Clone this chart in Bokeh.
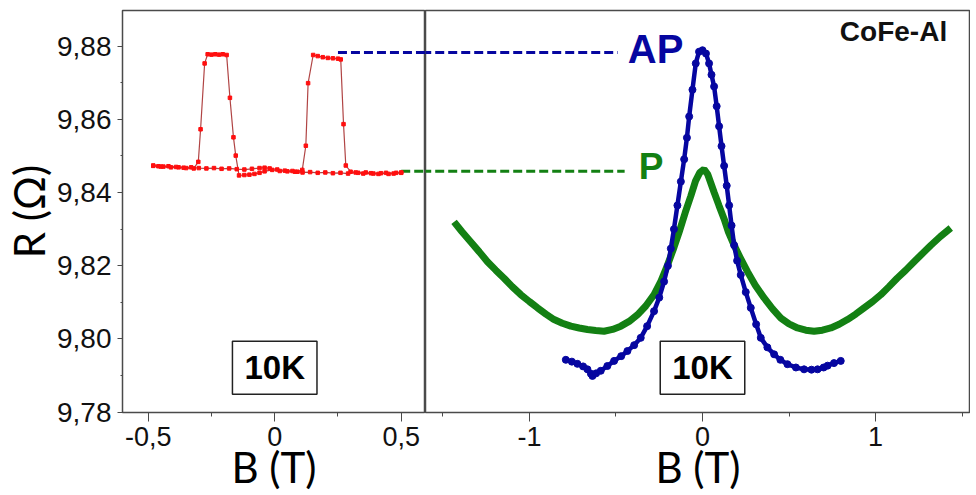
from bokeh.plotting import figure
from bokeh.layouts import row
from bokeh.models import Range1d, SingleIntervalTicker, CustomJSTickFormatter, Label
from bokeh.embed import file_html
from bokeh.resources import INLINE

# ---------------- data ----------------
# Left panel: TMR loop at 10K, sweep from +0.5 T down to -0.48 T
red_down_b = [0.50, 0.47, 0.44, 0.41, 0.38, 0.35, 0.32, 0.29, 0.26, 0.23, 0.20, 0.17,
              0.14, 0.11, 0.08, 0.05, 0.02, -0.01, -0.04, -0.06, -0.08, -0.10, -0.12,
              -0.141, -0.154, -0.163, -0.177, -0.19, -0.205, -0.22, -0.235, -0.25, -0.265,
              -0.277, -0.293, -0.302, -0.32, -0.35, -0.38, -0.41, -0.44, -0.46, -0.48]
red_down_r = [9.8455, 9.8452, 9.8454, 9.8451, 9.8453, 9.8452, 9.8455, 9.8452, 9.8454, 9.8453,
              9.8455, 9.8454, 9.8456, 9.8455, 9.8457, 9.8458, 9.8459, 9.8462, 9.8458, 9.8454,
              9.8451, 9.8449, 9.8448, 9.8447, 9.8501, 9.8551, 9.8659, 9.8776, 9.8778, 9.8777,
              9.8778, 9.8777, 9.8778, 9.8753, 9.8573, 9.8484, 9.8466, 9.8467, 9.8469, 9.8469,
              9.8471, 9.8472, 9.8473]
# Left panel: sweep from -0.48 T up to +0.5 T
red_up_b = [-0.48, -0.45, -0.42, -0.39, -0.36, -0.33, -0.30, -0.27, -0.24, -0.21, -0.18,
            -0.15, -0.12, -0.09, -0.06, -0.04, -0.02, 0.01, 0.04, 0.07, 0.09, 0.109, 0.123,
            0.132, 0.152, 0.17, 0.19, 0.21, 0.23, 0.25, 0.261, 0.272, 0.281, 0.30, 0.33,
            0.36, 0.39, 0.42, 0.45, 0.48, 0.50]
red_up_r = [9.8474, 9.8471, 9.8472, 9.8470, 9.8468, 9.8469, 9.8467, 9.8466, 9.8467, 9.8465,
            9.8466, 9.8464, 9.8463, 9.8465, 9.8467, 9.8468, 9.8466, 9.8463, 9.8460, 9.8459,
            9.8457, 9.8462, 9.8528, 9.8699, 9.8776, 9.8773, 9.8770, 9.8768, 9.8767, 9.8766,
            9.8764, 9.8587, 9.8474, 9.8457, 9.8454, 9.8455, 9.8452, 9.8453, 9.8451, 9.8454,
            9.8454]

# Right panel: AP (blue) and P (green) field sweeps
ap_b = [-0.790, -0.755, -0.723, -0.690, -0.665, -0.645, -0.636, -0.615, -0.588, -0.550,
        -0.511, -0.470, -0.434, -0.395, -0.357, -0.320, -0.280, -0.250, -0.222, -0.200,
        -0.183, -0.165, -0.145, -0.125, -0.106, -0.090, -0.077, -0.058, -0.039, -0.020,
        0.000, 0.020, 0.038, 0.052, 0.067, 0.082, 0.096, 0.110, 0.125, 0.140, 0.154,
        0.168, 0.183, 0.200, 0.221, 0.250, 0.279, 0.310, 0.337, 0.375, 0.414, 0.450,
        0.491, 0.540, 0.587, 0.630, 0.665, 0.700, 0.723, 0.760, 0.799]
ap_r = [9.7943, 9.7938, 9.7932, 9.7925, 9.7917, 9.7905, 9.7899, 9.7906, 9.7913, 9.7926,
        9.7940, 9.7953, 9.7967, 9.7983, 9.8003, 9.8035, 9.8076, 9.8113, 9.8157, 9.8200,
        9.8247, 9.8300, 9.8365, 9.8430, 9.8491, 9.8550, 9.8608, 9.8681, 9.8753, 9.8785,
        9.8789, 9.8780, 9.8753, 9.8722, 9.8690, 9.8636, 9.8581, 9.8527, 9.8473, 9.8419,
        9.8365, 9.8310, 9.8256, 9.8214, 9.8175, 9.8128, 9.8085, 9.8040, 9.8003, 9.7977,
        9.7958, 9.7943, 9.7931, 9.7922, 9.7917, 9.7916, 9.7917, 9.7922, 9.7927, 9.7934,
        9.7940]
p_b = [-1.436, -1.390, -1.339, -1.290, -1.243, -1.195, -1.147, -1.100, -1.050, -1.000,
       -0.954, -0.905, -0.858, -0.810, -0.761, -0.713, -0.665, -0.617, -0.569, -0.520,
       -0.472, -0.424, -0.376, -0.328, -0.280, -0.240, -0.202, -0.165, -0.135, -0.100,
       -0.068, -0.040, -0.015, 0.009, 0.030, 0.067, 0.095, 0.125, 0.150, 0.183, 0.220,
       0.260, 0.305, 0.356, 0.405, 0.453, 0.500, 0.549, 0.597, 0.645, 0.693, 0.742,
       0.790, 0.838, 0.886, 0.934, 0.983, 1.031, 1.078, 1.125, 1.175, 1.223, 1.270,
       1.320, 1.375, 1.435]
p_r = [9.8320, 9.8293, 9.8265, 9.8238, 9.8211, 9.8188, 9.8166, 9.8143, 9.8121, 9.8102,
       9.8085, 9.8068, 9.8053, 9.8043, 9.8035, 9.8030, 9.8026, 9.8023, 9.8021, 9.8026,
       9.8035, 9.8048, 9.8066, 9.8090, 9.8121, 9.8158, 9.8202, 9.8250, 9.8292, 9.8345,
       9.8390, 9.8432, 9.8455, 9.8464, 9.8450, 9.8401, 9.8365, 9.8328, 9.8292, 9.8256,
       9.8220, 9.8184, 9.8147, 9.8112, 9.8082, 9.8057, 9.8041, 9.8030, 9.8024, 9.8021,
       9.8024, 9.8030, 9.8040, 9.8053, 9.8068, 9.8085, 9.8102, 9.8121, 9.8143, 9.8166,
       9.8188, 9.8211, 9.8233, 9.8256, 9.8280, 9.8303]

# guide levels (AP / P resistance) and where the dashed guides run
ap_level = 9.8783
p_level = 9.8458
ap_guide_left_b = [0.25, 0.62]
p_guide_left_b = [0.50, 0.62]
ap_guide_right_b = [-1.62, -0.49]
p_guide_right_b = [-1.62, -0.45]

# ---------------- styling ----------------
BLUE = "#0606a0"
GREEN = "#138013"
RED = "#ff0f0f"
FRAME = "#4a4a4a"
TICK_FONT = "Liberation Sans"
LABEL_FONT = "Lato"

yr = Range1d(9.7799, 9.88976)

comma_fmt = CustomJSTickFormatter(code="""
var v = Math.round(tick * 100) / 100;
if (Math.abs(v) < 1e-9) { v = 0; }
return v.toString().replace('.', ',');
""")
y_fmt = CustomJSTickFormatter(code="return tick.toFixed(2).replace('.', ',');")

H = 494
TOP = 10
BOTTOM = 79


def base_style(p):
    p.xgrid.visible = False
    p.ygrid.visible = False
    p.outline_line_color = FRAME
    p.outline_line_width = 1.5
    p.background_fill_color = "white"
    p.border_fill_color = "white"
    for ax in p.xaxis:
        ax.axis_line_color = None
        ax.major_tick_line_color = FRAME
        ax.minor_tick_line_color = FRAME
        ax.major_tick_out = 9
        ax.major_tick_in = 0
        ax.minor_tick_out = 4
        ax.minor_tick_in = 0
        ax.major_label_text_font = TICK_FONT
        ax.major_label_text_font_size = "27px"
        ax.major_label_text_color = "#111111"
        ax.major_label_standoff = 5
        ax.axis_label = "B (T)"
        ax.axis_label_text_font = LABEL_FONT
        ax.axis_label_text_font_size = "42px"
        ax.axis_label_text_font_style = "normal"
        ax.axis_label_text_color = "black"
        ax.axis_label_standoff = -7


# ---------------- left panel ----------------
p1 = figure(width=425, height=H, x_range=Range1d(-0.6016, 0.596), y_range=yr,
            toolbar_location=None, output_backend="svg",
            min_border_left=122, min_border_right=0, min_border_top=TOP,
            min_border_bottom=BOTTOM)
base_style(p1)
p1.xaxis.ticker = SingleIntervalTicker(interval=0.5, num_minor_ticks=2)
p1.xaxis.formatter = comma_fmt
ya = p1.yaxis[0]
ya.ticker = SingleIntervalTicker(interval=0.02, num_minor_ticks=2)
ya.formatter = y_fmt
ya.axis_line_color = None
ya.major_tick_line_color = FRAME
ya.minor_tick_line_color = FRAME
ya.major_tick_out = 5
ya.major_tick_in = 0
ya.minor_tick_out = 2
ya.minor_tick_in = 0
ya.major_label_text_font = TICK_FONT
ya.major_label_text_font_size = "28px"
ya.major_label_text_color = "#111111"
ya.major_label_standoff = 6
ya.axis_label = "R (Ω)"
ya.axis_label_text_font = LABEL_FONT
ya.axis_label_text_font_size = "42px"
ya.axis_label_text_font_style = "normal"
ya.axis_label_text_color = "black"
ya.axis_label_standoff = 0

p1.line(ap_guide_left_b, [ap_level, ap_level], line_color=BLUE, line_width=3,
        line_dash="9 4")
p1.line(p_guide_left_b, [p_level, p_level], line_color=GREEN, line_width=3,
        line_dash="9 4")
p1.line(red_down_b, red_down_r, line_color="#b04444", line_width=1.2)
p1.line(red_up_b, red_up_r, line_color="#b04444", line_width=1.2)
p1.scatter(red_down_b, red_down_r, marker="square", size=3.5, color=RED)
p1.scatter(red_up_b, red_up_r, marker="square", size=3.5, color=RED)

p1.add_layout(Label(x=0, y=9.7921, text="10K", text_align="center", text_baseline="middle",
                    text_font=TICK_FONT, text_font_size="33px", text_font_style="bold",
                    text_color="black", border_line_color="#222222", border_line_width=1.5,
                    background_fill_color="white",
                    padding=dict(left=12, right=12, top=8, bottom=8)))

# ---------------- right panel ----------------
p2 = figure(width=545, height=H, x_range=Range1d(-1.601, 1.549), y_range=yr,
            toolbar_location=None, output_backend="svg", y_axis_location=None,
            min_border_left=0, min_border_right=0, min_border_top=TOP,
            min_border_bottom=BOTTOM)
base_style(p2)
p2.xaxis.ticker = SingleIntervalTicker(interval=1, num_minor_ticks=2)
p2.xaxis.formatter = comma_fmt

p2.line(ap_guide_right_b, [ap_level, ap_level], line_color=BLUE, line_width=3,
        line_dash="9 4")
p2.line(p_guide_right_b, [p_level, p_level], line_color=GREEN, line_width=3,
        line_dash="9 4")
p2.line(p_b, p_r, line_color=GREEN, line_width=7)
p2.line(ap_b, ap_r, line_color=BLUE, line_width=4.5)
p2.scatter(ap_b, ap_r, marker="circle", size=7, color=BLUE)

p2.add_layout(Label(x=-0.432, y=9.8732, text="AP", text_font=TICK_FONT, text_font_size="40px",
                    text_font_style="bold", text_color=BLUE))
p2.add_layout(Label(x=-0.368, y=9.8415, text="P", text_font=TICK_FONT, text_font_size="37px",
                    text_font_style="bold", text_color=GREEN))
p2.add_layout(Label(x=0.794, y=9.8798, text="CoFe-Al", text_font=TICK_FONT,
                    text_font_size="28px", text_font_style="bold", text_color="#111111"))
p2.add_layout(Label(x=0, y=9.7921, text="10K", text_align="center", text_baseline="middle",
                    text_font=TICK_FONT, text_font_size="33px", text_font_style="bold",
                    text_color="black", border_line_color="#222222", border_line_width=1.5,
                    background_fill_color="white",
                    padding=dict(left=12, right=12, top=8, bottom=8)))

layout = row(p1, p2, spacing=0)
open("out.html", "w").write(file_html(layout, INLINE))
